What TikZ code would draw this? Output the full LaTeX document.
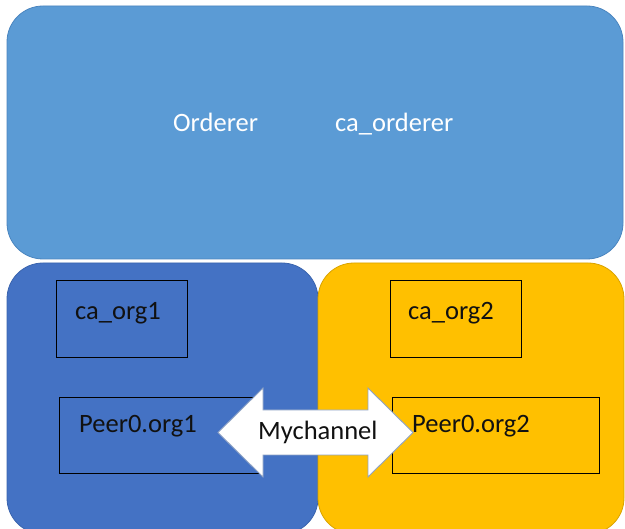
\documentclass[tikz,border=0pt]{standalone}
\usepackage{fontspec}
\setmainfont{Carlito}
\definecolor{ordfill}{HTML}{5B9BD5}
\definecolor{ordline}{HTML}{4A85BF}
\definecolor{orgAfill}{HTML}{4472C4}
\definecolor{orgAline}{HTML}{3A64AE}
\definecolor{orgBfill}{HTML}{FFC000}
\definecolor{orgBline}{HTML}{D9A300}
\definecolor{chanline}{HTML}{8FA3C4}
\definecolor{ink}{HTML}{111111}
\tikzset{
  zone/.style={rounded corners=36pt, line width=0.8pt},
  inbox/.style={draw=black, line width=1.1pt, inner sep=0pt, anchor=north west},
  lbl/.style={inner sep=0pt, anchor=base west, font=\fontsize{26.5}{32}\selectfont},
}
\begin{document}
\begin{tikzpicture}[x=1pt,y=-1pt]
  \useasboundingbox (0,0) rectangle (625,529);
  \fill[white] (0,0) rectangle (625,529);

  % orderer organisation
  \draw[zone, fill=ordfill, draw=ordline] (7,6) rectangle (623,259);
  \node[lbl, text=white] (orderer) at (173,132) {Orderer};
  \node[lbl, text=white] (caord) at (335,132) {ca\_orderer};

  % org1 and org2
  \draw[zone, fill=orgAfill, draw=orgAline] (7,263) rectangle (318,534);
  \draw[zone, fill=orgBfill, draw=orgBline] (318,263) rectangle (624,534);

  % component boxes
  \node[inbox, minimum width=131pt, minimum height=77pt] (ca1box) at (56,280) {};
  \node[inbox, minimum width=201pt, minimum height=76pt] (p1box) at (59,397) {};
  \node[inbox, minimum width=131pt, minimum height=77pt] (ca2box) at (390,280) {};
  \node[inbox, minimum width=207pt, minimum height=76pt] (p2box) at (392,397) {};

  % channel between the peers
  \coordinate (ltip) at (218,432.5);
  \coordinate (rtip) at (413,432.5);
  \draw[fill=white, draw=chanline, line width=0.9pt, line join=miter]
    (ltip) -- (263,388) -- (263,410) -- (368,410) -- (368,388) -- (rtip)
    -- (368,477) -- (368,455) -- (263,455) -- (263,477) -- cycle;
  \node[lbl, text=ink] (chan) at (258,440) {Mychannel};

  % labels
  \node[lbl, text=ink] (ca1) at (75,320) {ca\_org1};
  \node[lbl, text=ink] (p1) at (79,433) {Peer0.org1};
  \node[lbl, text=ink] (ca2) at (408,320) {ca\_org2};
  \node[lbl, text=ink] (p2) at (412,433) {Peer0.org2};
\end{tikzpicture}
\end{document}
